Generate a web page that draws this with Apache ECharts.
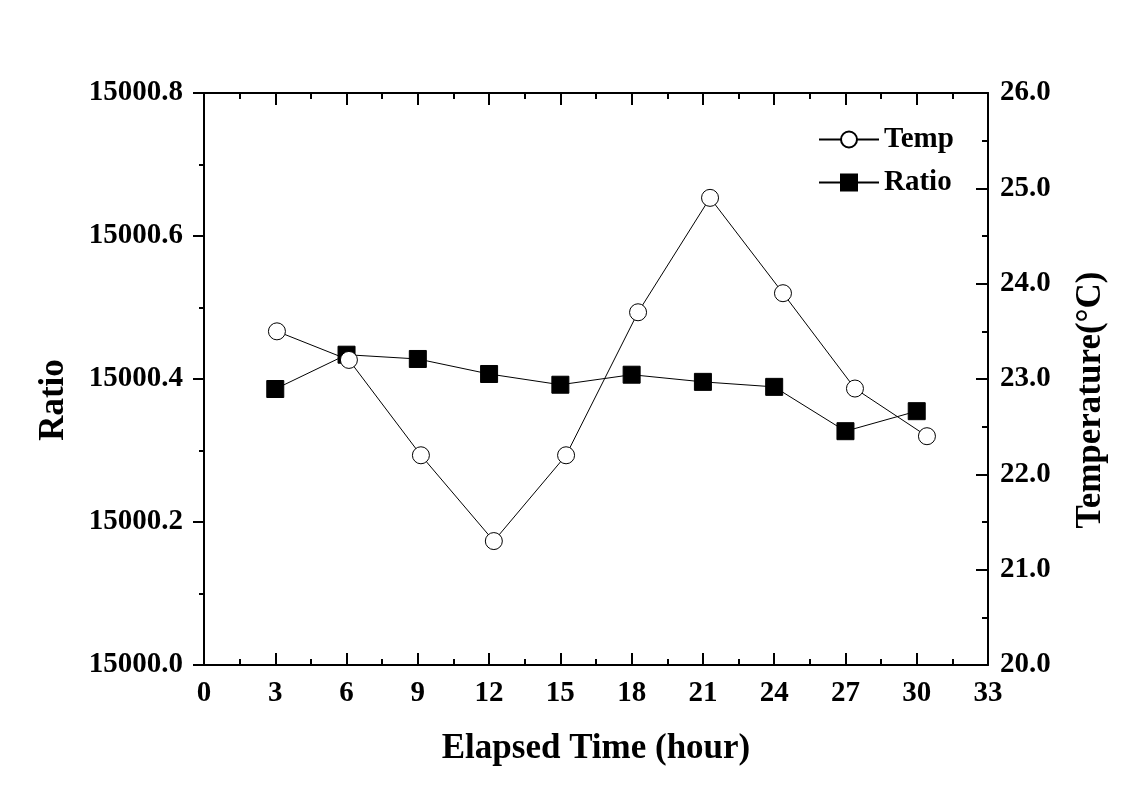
<!DOCTYPE html>
<html><head><meta charset="utf-8">
<script src="https://cdn.jsdelivr.net/npm/echarts@6/dist/echarts.min.js"></script>
<style>html,body{margin:0;padding:0;background:#fff;overflow:hidden}#c{width:1148px;height:799px}</style>
</head><body><div id="c"></div>
<script>
const ratioX = [3, 6, 9, 12, 15, 18, 21, 24, 27, 30];
const ratioY = [15000.386, 15000.434, 15000.428, 15000.407, 15000.392, 15000.406, 15000.396, 15000.389, 15000.327, 15000.355];
const tempX = [3.07, 6.1, 9.13, 12.2, 15.24, 18.27, 21.3, 24.37, 27.4, 30.43];
const tempY = [23.5, 23.2, 22.2, 21.3, 22.2, 23.7, 24.9, 23.9, 22.9, 22.4];

const font = 'Liberation Serif';
const chart = echarts.init(document.getElementById('c'));
const axLine = {show: true, onZero: false, lineStyle: {color: '#000', width: 2}};
const lbl = {color: '#000', fontFamily: font, fontWeight: 'bold', fontSize: 29};
const ttl = {color: '#000', fontFamily: font, fontWeight: 'bold', fontSize: 35};
const ttlV = Object.assign({padding: [0, 42, 0, 0]}, ttl);
chart.setOption({
  animation: false,
  backgroundColor: '#fff',
  grid: {left: 204, right: 160, top: 93, bottom: 134},
  legend: {
    top: 125, left: 818, padding: 0, orient: 'vertical', itemWidth: 60, itemHeight: 20, itemGap: 14,
    textStyle: {color: '#000', fontFamily: font, fontWeight: 'bold', fontSize: 29},
    data: ['Temp', 'Ratio']
  },
  xAxis: [{
    type: 'value', min: 0, max: 33, interval: 3, position: 'bottom',
    name: 'Elapsed Time (hour)', nameLocation: 'middle', nameGap: 66, nameTextStyle: ttl,
    axisLine: axLine, axisTick: {show: true, inside: true, length: 12, lineStyle: {color: '#000', width: 2}},
    minorTick: {show: true, splitNumber: 2, length: 6, lineStyle: {color: '#000', width: 2}},
    axisLabel: Object.assign({margin: 14}, lbl), splitLine: {show: false}
  }, {
    type: 'value', min: 0, max: 33, interval: 3, position: 'top',
    axisLine: axLine, axisTick: {show: true, inside: true, length: 12, lineStyle: {color: '#000', width: 2}},
    minorTick: {show: true, splitNumber: 2, length: 6, lineStyle: {color: '#000', width: 2}},
    axisLabel: {show: false}, splitLine: {show: false}
  }],
  yAxis: [{
    type: 'value', min: 15000, max: 15000.8, interval: 0.2, position: 'left',
    name: 'Ratio', nameLocation: 'middle', nameGap: 133, nameRotate: 90, nameTextStyle: ttlV,
    axisLine: axLine, axisTick: {show: true, inside: false, length: 11, lineStyle: {color: '#000', width: 2}},
    minorTick: {show: true, splitNumber: 2, length: 5, lineStyle: {color: '#000', width: 2}},
    axisLabel: Object.assign({margin: 21, formatter: v => v.toFixed(1)}, lbl), splitLine: {show: false}
  }, {
    type: 'value', min: 20, max: 26, interval: 1, position: 'right',
    name: 'Temperature(\u00B0C)', nameLocation: 'middle', nameGap: 85, nameRotate: 90, nameTextStyle: ttlV,
    axisLine: axLine, axisTick: {show: true, inside: true, length: 12, lineStyle: {color: '#000', width: 2}},
    minorTick: {show: true, splitNumber: 2, length: 6, lineStyle: {color: '#000', width: 2}},
    axisLabel: Object.assign({margin: 12, formatter: v => v.toFixed(1)}, lbl), splitLine: {show: false}
  }],
  series: [{
    name: 'Temp', type: 'line', xAxisIndex: 0, yAxisIndex: 1,
    data: tempX.map((x, i) => [x, tempY[i]]),
    symbol: 'circle', symbolSize: 17, z: 3,
    lineStyle: {color: '#000', width: 1},
    itemStyle: {color: '#fff', borderColor: '#000', borderWidth: 1}
  }, {
    name: 'Ratio', type: 'line', xAxisIndex: 0, yAxisIndex: 0,
    data: ratioX.map((x, i) => [x, ratioY[i]]),
    symbol: 'rect', symbolSize: 17, z: 2,
    lineStyle: {color: '#000', width: 1},
    itemStyle: {color: '#000', borderColor: '#000', borderWidth: 1}
  }]
});
</script></body></html>
